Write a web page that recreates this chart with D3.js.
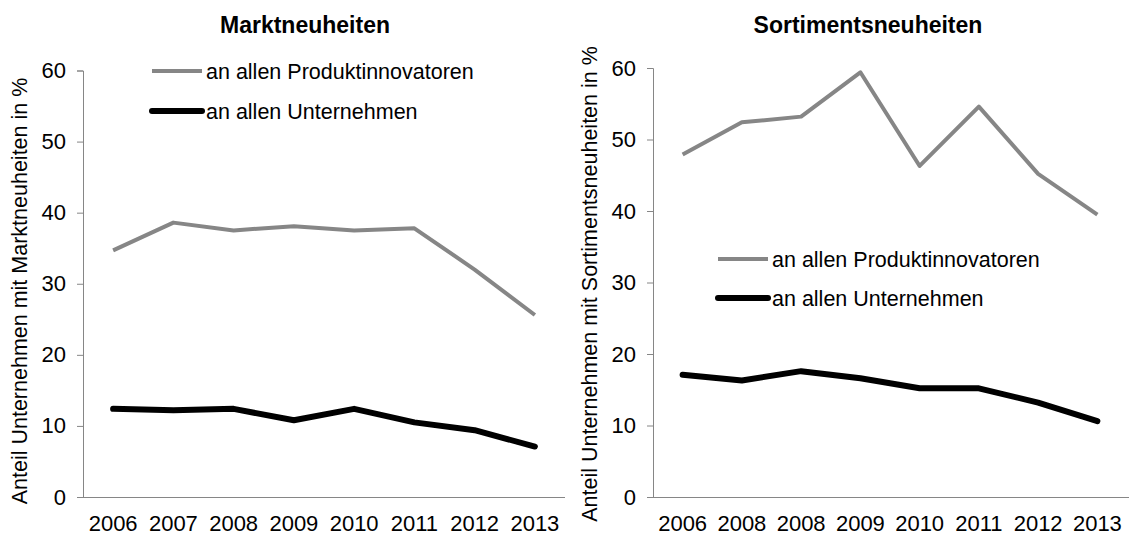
<!DOCTYPE html>
<html><head><meta charset="utf-8">
<script src="https://cdn.jsdelivr.net/npm/d3@7"></script>
<style>body{margin:0;background:#fff}svg{display:block}text{font-family:"Liberation Sans",Arial,sans-serif}</style>
</head><body><svg id="c" width="1129" height="536"></svg>
<script>
const yearsLeft = ["2006","2007","2008","2009","2010","2011","2012","2013"];
const yearsRight = ["2006","2008","2008","2009","2010","2011","2012","2013"];
const marktProdukt = [34.7, 38.6, 37.5, 38.1, 37.5, 37.8, 32.0, 25.6];
const marktAlle = [12.4, 12.2, 12.4, 10.8, 12.4, 10.5, 9.4, 7.1];
const sortProdukt = [47.9, 52.4, 53.2, 59.4, 46.3, 54.6, 45.2, 39.5];
const sortAlle = [17.1, 16.3, 17.6, 16.6, 15.2, 15.2, 13.2, 10.6];
const yTicks = [0, 10, 20, 30, 40, 50, 60];
const legendLabels = ["an allen Produktinnovatoren", "an allen Unternehmen"];

const svg = d3.select("#c");
const GREY = "#868686", AXIS = "#868686";

function panel(cfg) {
  const g = svg.append("g");
  const x = d3.scaleBand().domain(d3.range(cfg.labels.length)).range([cfg.x0, cfg.x1]).padding(0);
  const y = d3.scaleLinear().domain([0, 60]).range([497, cfg.yTop]);

  const ya = g.append("g").attr("transform", `translate(${cfg.x0},0)`)
    .call(d3.axisLeft(y).tickValues(yTicks).tickSize(6).tickPadding(11));
  ya.select(".domain").attr("stroke", AXIS).attr("d", `M-6,${cfg.yTop + 0.5}H0.5V497.5`);
  ya.selectAll(".tick line").attr("stroke", AXIS);
  ya.selectAll(".tick text").attr("font-size", 22).attr("fill", "#000")
    .attr("font-family", "Liberation Sans, Arial, sans-serif");

  const xa = g.append("g").attr("transform", `translate(0,497)`)
    .call(d3.axisBottom(x).tickSize(0).tickPadding(18).tickFormat(i => cfg.labels[i]));
  xa.select(".domain").attr("stroke", AXIS).attr("d", `M${cfg.x0},0.5H${cfg.axisEnd}`);
  xa.selectAll(".tick text").attr("font-size", 22).attr("fill", "#000")
    .attr("font-family", "Liberation Sans, Arial, sans-serif");

  const line = d3.line().x((d, i) => x(i) + x.bandwidth() / 2).y(d => y(d));
  g.append("path").datum(cfg.produkt).attr("d", line).attr("fill", "none")
    .attr("stroke", GREY).attr("stroke-width", 4).attr("stroke-linejoin", "round");
  g.append("path").datum(cfg.alle).attr("d", line).attr("fill", "none")
    .attr("stroke", "#000").attr("stroke-width", 6).attr("stroke-linejoin", "round").attr("stroke-linecap", "round");

  g.append("text").attr("x", cfg.titleX).attr("y", 33).attr("text-anchor", "middle")
    .attr("font-size", 23).attr("font-weight", "bold").text(cfg.title);

  g.append("text").attr("transform", `translate(${cfg.yLabelX},${cfg.yLabelC}) rotate(-90)`)
    .attr("text-anchor", "middle").attr("font-size", 21.5).text(cfg.yLabel);

  const lg = [
    {label: legendLabels[0], color: GREY, w: 4, y: cfg.legY[0], cap: "butt"},
    {label: legendLabels[1], color: "#000", w: 6, y: cfg.legY[1], cap: "round"}
  ];
  lg.forEach(d => {
    g.append("line").attr("x1", cfg.legX).attr("x2", cfg.legX + 50).attr("y1", d.y).attr("y2", d.y)
      .attr("stroke", d.color).attr("stroke-width", d.w).attr("stroke-linecap", d.cap);
    g.append("text").attr("x", cfg.legX + 54).attr("y", d.y).attr("dy", "0.35em")
      .attr("font-size", 21.5).text(d.label);
  });
}

panel({labels: yearsLeft, x0: 83, x1: 565, axisEnd: 565, yTop: 70.5, produkt: marktProdukt, alle: marktAlle,
  title: "Marktneuheiten", titleX: 305, yLabel: "Anteil Unternehmen mit Marktneuheiten in %",
  yLabelX: 27, yLabelC: 291, legX: 152, legY: [71, 111]});
panel({labels: yearsRight, x0: 653, x1: 1127, axisEnd: 1129, yTop: 68, produkt: sortProdukt, alle: sortAlle,
  title: "Sortimentsneuheiten", titleX: 868, yLabel: "Anteil Unternehmen mit Sortimentsneuheiten in %",
  yLabelX: 597, yLabelC: 284, legX: 718, legY: [259, 298]});
</script></body></html>
